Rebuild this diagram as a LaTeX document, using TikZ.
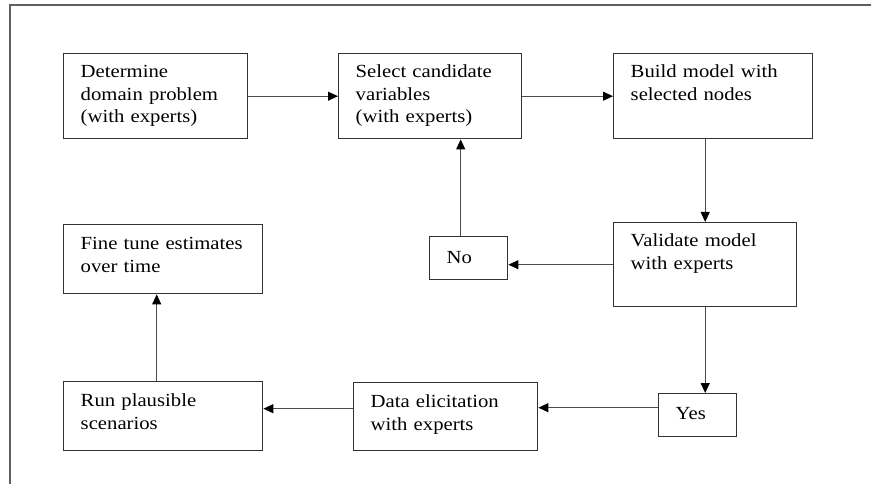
\documentclass[tikz,border=0pt]{standalone}
\usepackage{fontspec}
\setmainfont{Liberation Serif}[FakeStretch=1.12]
\usepackage{tikz}
\usetikzlibrary{arrows.meta,positioning}
\definecolor{framegray}{RGB}{95,95,95}
\definecolor{boxgray}{RGB}{50,50,50}
\definecolor{linkgray}{RGB}{75,75,75}

\begin{document}
\begin{tikzpicture}[x=1pt, y=-1pt,
  every node/.style={font=\fontsize{18.5}{22.5}\selectfont},
  stage/.style={draw=boxgray, line width=1.4pt, anchor=north west, inner xsep=17pt, inner ysep=0pt, align=left, text height=24pt},
  flow/.style={-{Triangle[length=10pt,width=9pt,color=black]}, draw=linkgray, line width=0.9pt},
  flowbold/.style={flow, line width=1.3pt}]
  \useasboundingbox (0,0) rectangle (871,484);
  \draw[framegray, line width=1.4pt] (10,484) -- (10,5) -- (871,5);
  % top row
  \node[stage, text width=150pt, text depth=61pt] (det) at (63,53) {Determine\\domain problem\\(with experts)};
  \node[stage, text width=149pt, text depth=61pt] (sel) at (338,53) {Select candidate\\variables\\(with experts)};
  \node[stage, text width=165pt, text depth=61pt] (bld) at (613,53) {Build model with\\selected nodes};
  % validation loop
  \node[stage, text width=149pt, text depth=60pt] (val) at (613,222) {Validate model\\with experts};
  \node[stage, text width=44pt, text height=27pt, text depth=16pt] (no) at (429,236) {No};
  \node[stage, text width=44pt, text height=26pt, text depth=17pt] (yes) at (658,393) {Yes};
  % bottom part
  \node[stage, text width=165pt, text height=25pt, text depth=44pt] (fine) at (63,224) {Fine tune estimates\\over time};
  \node[stage, text width=165pt, text height=25pt, text depth=44pt] (run) at (63,381) {Run plausible\\scenarios};
  \node[stage, text width=150pt, text height=25pt, text depth=43pt] (data) at (353,382) {Data elicitation\\with experts};
  \draw[flow] (det) -- (sel);
  \draw[flow] (sel) -- (bld);
  \draw[flow] (bld.south -| val.north) -- (val.north);
  \draw[flow] (val.west) -- (val.west -| no.east);
  \draw[flow] ([xshift=-8pt]no.north) -- ([xshift=-8pt]no.north |- sel.south);
  \draw[flowbold] (val.south) -- (val.south |- yes.north);
  \draw[flowbold] ([yshift=7.5pt]yes.west) -- ([yshift=7.5pt]yes.west -| data.east);
  \draw[flowbold] ([yshift=8pt]data.west) -- ([yshift=8pt]data.west -| run.east);
  \draw[flow] ([xshift=-6.5pt]run.north) -- ([xshift=-6.5pt]run.north |- fine.south);
\end{tikzpicture}
\end{document}
